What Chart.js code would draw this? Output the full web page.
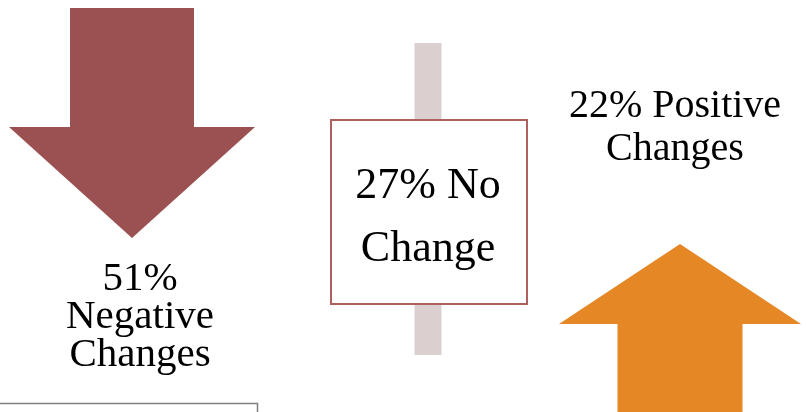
<!DOCTYPE html>
<html>
<head>
<meta charset="utf-8">
<script src="https://cdn.jsdelivr.net/npm/chart.js@4.4.0/dist/chart.umd.min.js"></script>
<style>
  html, body { margin: 0; padding: 0; background: #fff; }
  #wrap { width: 806px; height: 412px; }
</style>
</head>
<body>
<div id="wrap"><canvas id="changes-chart" width="806" height="412"></canvas></div>
<script>
// data
var categories = ["Negative Changes", "No Change", "Positive Changes"];
var shares = [51, 27, 22];
var colors = ["#9B5152", "#DCCFD0", "#E58724"];

// layout of each graphic (pixels), kept apart from the data
var layout = [
  { kind: "down", cx: 132, top: 8, shaftW: 124, shaftBottom: 127, headW: 246, tip: 238,
    textX: 140, baselines: [290, 328, 366], font: 41, wrap: 150 },
  { kind: "box", cx: 428, barTop: 43, barBottom: 355, barW: 27, boxL: 331, boxR: 527, boxT: 120, boxB: 304,
    textX: 428, baselines: [198, 261], font: 44, wrap: 175 },
  { kind: "up", cx: 680, tip: 244, headBase: 324, headW: 242, shaftW: 125, bottom: 420,
    textX: 675, baselines: [117, 160], font: 40, wrap: 215 }
];

function wrapText(ctx, text, maxW) {
  var words = text.split(" "), lines = [], cur = "";
  words.forEach(function(w) {
    var t = cur ? cur + " " + w : w;
    if (cur && ctx.measureText(t).width > maxW) { lines.push(cur); cur = w; }
    else cur = t;
  });
  if (cur) lines.push(cur);
  return lines;
}

var infographic = {
  id: "infographic",
  afterDraw: function(chart) {
    var ctx = chart.ctx;
    ctx.save();
    ctx.fillStyle = "#fff";
    ctx.fillRect(0, 0, chart.width, chart.height);

    categories.forEach(function(cat, i) {
      var L = layout[i];
      ctx.fillStyle = colors[i];
      if (L.kind === "down") {
        ctx.beginPath();
        ctx.moveTo(L.cx - L.shaftW / 2, L.top);
        ctx.lineTo(L.cx + L.shaftW / 2, L.top);
        ctx.lineTo(L.cx + L.shaftW / 2, L.shaftBottom);
        ctx.lineTo(L.cx + L.headW / 2, L.shaftBottom);
        ctx.lineTo(L.cx, L.tip);
        ctx.lineTo(L.cx - L.headW / 2, L.shaftBottom);
        ctx.lineTo(L.cx - L.shaftW / 2, L.shaftBottom);
        ctx.closePath();
        ctx.fill();
      } else if (L.kind === "up") {
        ctx.beginPath();
        ctx.moveTo(L.cx, L.tip);
        ctx.lineTo(L.cx + L.headW / 2, L.headBase);
        ctx.lineTo(L.cx + L.shaftW / 2, L.headBase);
        ctx.lineTo(L.cx + L.shaftW / 2, L.bottom);
        ctx.lineTo(L.cx - L.shaftW / 2, L.bottom);
        ctx.lineTo(L.cx - L.shaftW / 2, L.headBase);
        ctx.lineTo(L.cx - L.headW / 2, L.headBase);
        ctx.closePath();
        ctx.fill();
      } else {
        ctx.fillRect(L.cx - L.barW / 2, L.barTop, L.barW, L.barBottom - L.barTop);
        ctx.fillStyle = "#fff";
        ctx.fillRect(L.boxL, L.boxT, L.boxR - L.boxL, L.boxB - L.boxT);
        ctx.strokeStyle = "#B05F5F";
        ctx.lineWidth = 2;
        ctx.strokeRect(L.boxL, L.boxT, L.boxR - L.boxL, L.boxB - L.boxT);
      }

      ctx.fillStyle = "#000";
      ctx.font = L.font + "px 'Liberation Serif', serif";
      ctx.textAlign = "center";
      ctx.textBaseline = "alphabetic";
      var lines = wrapText(ctx, shares[i] + "% " + cat, L.wrap);
      lines.forEach(function(line, k) {
        ctx.fillText(line, L.textX, L.baselines[k]);
      });
    });

    // frame peeking in at the bottom left
    ctx.strokeStyle = "#7F7F7F";
    ctx.lineWidth = 1.5;
    ctx.beginPath();
    ctx.moveTo(0, 403.5);
    ctx.lineTo(257.5, 403.5);
    ctx.lineTo(257.5, 412);
    ctx.stroke();
    ctx.restore();
  }
};

var ctx = document.getElementById("changes-chart").getContext("2d");
window.myChart = new Chart(ctx, {
  type: "bar",
  data: {
    labels: categories,
    datasets: [{
      label: "Share of changes (%)",
      data: shares,
      backgroundColor: "rgba(0,0,0,0)"
    }]
  },
  options: {
    responsive: false,
    animation: false,
    layout: { padding: 0 },
    plugins: { legend: { display: false }, tooltip: { enabled: false }, title: { display: false } },
    scales: { x: { display: false }, y: { display: false, min: 0, max: 100 } }
  },
  plugins: [infographic]
});
</script>
</body>
</html>
